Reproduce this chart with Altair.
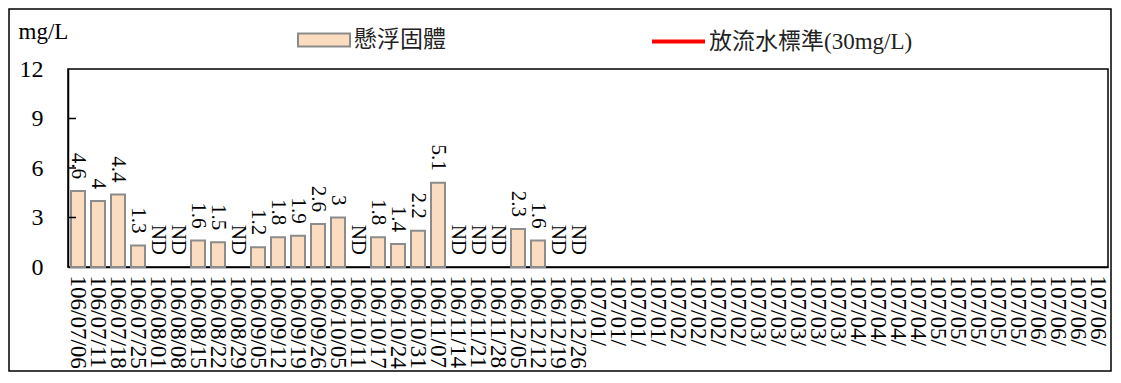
import altair as alt
import pandas as pd

labels_106 = ["106/07/06", "106/07/11", "106/07/18", "106/07/25", "106/08/01", "106/08/08",
              "106/08/15", "106/08/22", "106/08/29", "106/09/05", "106/09/12", "106/09/19",
              "106/09/26", "106/10/05", "106/10/11", "106/10/17", "106/10/24", "106/10/31",
              "106/11/07", "106/11/14", "106/11/21", "106/11/28", "106/12/05", "106/12/12",
              "106/12/19", "106/12/26"]
labels_107 = (["107/01/"] * 4 + ["107/02/"] * 4 + ["107/03/"] * 5 +
              ["107/04/"] * 4 + ["107/05/"] * 5 + ["107/06/"] * 4)
tick_labels = labels_106 + labels_107

# None = ND (not detected)
ss_values = [4.6, 4, 4.4, 1.3, None, None, 1.6, 1.5, None, 1.2, 1.8, 1.9, 2.6, 3, None,
             1.8, 1.4, 2.2, 5.1, None, None, None, 2.3, 1.6, None, None]
y_ticks = [0, 3, 6, 9, 12]
inner_ticks = [3, 6, 9]
series_bar = "懸浮固體"
series_std = "放流水標準(30mg/L)"
standard_value = 30

SERIF = "'Liberation Serif', 'Noto Sans CJK TC', serif"
LEG_FONT = "'Liberation Serif', 'Noto Sans CJK TC', serif"

bar_df = pd.DataFrame([{"idx": i, "value": v, "series": series_bar}
                       for i, v in enumerate(ss_values) if v is not None])
lab_df = pd.DataFrame([{"idx": i, "value": (v if v is not None else 0),
                        "text": (f"{v:g}" if v is not None else "ND")}
                       for i, v in enumerate(ss_values)])
tick_df = pd.DataFrame({"t": inner_ticks})
std_df = pd.DataFrame({"v": [standard_value], "series": [series_std]})
frame_df = pd.DataFrame({"a": [0]})

label_expr = "[" + ",".join(f"'{s}'" for s in tick_labels) + "][datum.value]"

xenc = alt.X("idx:O",
             scale=alt.Scale(domain=list(range(len(tick_labels))), paddingInner=0.3, paddingOuter=0.15),
             axis=alt.Axis(title=None, labelExpr=label_expr, labelAngle=90, labelAlign="left",
                           labelBaseline="middle", labelFont=SERIF, labelFontSize=23,
                           labelColor="black", labelPadding=8, ticks=False,
                           domainColor="black", domainWidth=1.5, labelOverlap=False))
yscale = alt.Scale(domain=[0, 12], nice=False)

bars = alt.Chart(bar_df).mark_bar(stroke="#8c8c8c", strokeWidth=2).encode(
    x=xenc,
    y=alt.Y("value:Q", scale=yscale,
            axis=alt.Axis(values=y_ticks, title="mg/L", titleAngle=0, titleX=-50, titleY=-31,
                          titleAlign="left", titleBaseline="alphabetic", titleFont=SERIF,
                          titleFontSize=23, titleFontWeight="normal", titleColor="black",
                          labelFont=SERIF, labelFontSize=24, labelColor="black",
                          labelPadding=25, ticks=False, grid=False,
                          domainColor="black", domainWidth=1.5)),
    fill=alt.Fill("series:N", scale=alt.Scale(domain=[series_bar], range=["#fbdcbf"]),
                  legend=alt.Legend(orient="none", legendX=229, legendY=-56, title=None,
                                    symbolType="M-1,-0.25H1V0.25H-1Z", symbolSize=2704,
                                    symbolStrokeColor="#8c8c8c", symbolStrokeWidth=2,
                                    labelFont=LEG_FONT, labelFontSize=23, labelColor="#222",
                                    labelOffset=3, labelLimit=400, padding=0)),
)

texts = alt.Chart(lab_df).mark_text(angle=90, align="right", baseline="middle", dx=-12,
                                    font=SERIF, fontSize=21, color="black").encode(
    x=alt.X("idx:O"), y=alt.Y("value:Q"), text="text:N")

ticks = alt.Chart(tick_df).mark_rule(color="black", strokeWidth=1.5).encode(
    y=alt.Y("t:Q"), x=alt.value(0), x2=alt.value(8))

std = alt.Chart(std_df).mark_rule(clip=True, strokeWidth=4).encode(
    y=alt.Y("v:Q"),
    stroke=alt.Stroke("series:N", scale=alt.Scale(domain=[series_std], range=["red"]),
                      legend=alt.Legend(orient="none", legendX=582, legendY=-56, title=None,
                                        symbolType="stroke", symbolSize=2809,
                                        symbolStrokeWidth=4,
                                        labelFont=LEG_FONT, labelFontSize=23, labelColor="#222",
                                        labelOffset=2, labelLimit=400, padding=0)))

frame = alt.Chart(frame_df).mark_rect(fillOpacity=0, stroke="black", strokeWidth=1.5).encode(
    x=alt.value(-59), x2=alt.value(1043), y=alt.value(-60), y2=alt.value(302))

chart = alt.layer(frame, bars, texts, ticks, std).resolve_scale(
    fill="independent", stroke="independent"
).properties(
    width=1040, height=198,
    autosize=alt.AutoSizeParams(type="none"),
    padding={"left": 60, "top": 61, "right": 4, "bottom": 106},
).configure_view(stroke="black", strokeWidth=1.5)

chart.save("out.html", embed_options={"renderer": "svg", "actions": False})
